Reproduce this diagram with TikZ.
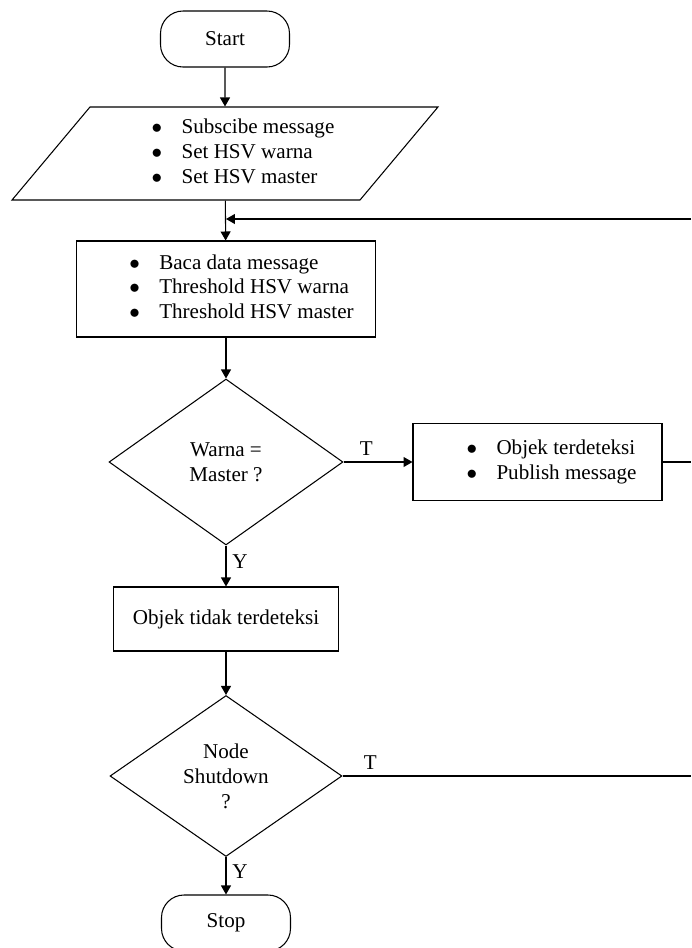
\documentclass[tikz,border=0pt]{standalone}
\usepackage{fontspec}
\setmainfont{Liberation Serif}
\usetikzlibrary{shapes.geometric,arrows.meta}

\newcommand{\bl}[1]{\makebox[0.6cm][l]{$\bullet$}#1}

\begin{document}
\begin{tikzpicture}[x=0.02cm,y=-0.02cm,auto,line width=0.6pt,
    >={Triangle[length=1.8mm,width=2mm]},
    every node/.style={font=\fontsize{12}{14.2}\selectfont},
    term/.style={draw,rounded corners=0.45cm,minimum width=2.58cm,minimum height=1.12cm},
    io/.style={draw,trapezium,trapezium left angle=48,trapezium right angle=132,
      trapezium stretches body,minimum width=8.52cm,minimum height=1.86cm},
    proc/.style={draw,rectangle},
    dec/.style={draw,diamond,inner sep=0pt,align=center}]
    \clip (0,0) rectangle (691,948);
    \node[term] (a) at (225, 39) {Start};
    \node[io] (b) at (225, 153.5) {\hspace*{0.72cm}\begin{tabular}{@{}l@{}}\bl{Subscibe message}\\ \bl{Set HSV warna}\\ \bl{Set HSV master}\end{tabular}};
    \node[proc,minimum width=6cm,minimum height=1.92cm] (c) at (226, 289) {\hspace*{0.62cm}\begin{tabular}{@{}l@{}}\bl{Baca data message}\\ \bl{Threshold HSV warna}\\ \bl{Threshold HSV master}\end{tabular}};
    \node[dec,minimum width=4.68cm,minimum height=3.32cm] (d) at (226, 462) {Warna =\\Master ?};
    \node[proc,minimum width=4.98cm,minimum height=1.54cm] (e) at (537.5, 462) {\hspace*{0.56cm}\begin{tabular}{@{}l@{}}\bl{Objek terdeteksi}\\ \bl{Publish message}\end{tabular}};
    \node[proc,minimum width=4.5cm,minimum height=1.28cm] (f) at (226, 619) {Objek tidak terdeteksi};
    \node[dec,minimum width=4.64cm,minimum height=3.22cm] (g) at (226, 776) {Node\\Shutdown\\?};
    \node[term] (h) at (226, 923) {Stop};
    \coordinate (r1) at (691, 219);
    \coordinate (r2) at (691, 462);
    \coordinate (r3) at (691, 776);
    \draw [->] (a) to (b);
    \draw [->] (b) to (c);
    \draw [->] (r1) to (r1 -| c);
    \draw [->] (c) to (d);
    \draw [->] (d) to node[pos=0.33] {T} (e);
    \draw (e) to (r2);
    \draw [->] (d) to node[pos=0.4] {Y} (f);
    \draw [->] (f) to (g);
    \draw (g) to node[pos=0.08] {T} (r3);
    \draw [->] (g) to node[pos=0.38] {Y} (h);
  \end{tikzpicture}
\end{document}
